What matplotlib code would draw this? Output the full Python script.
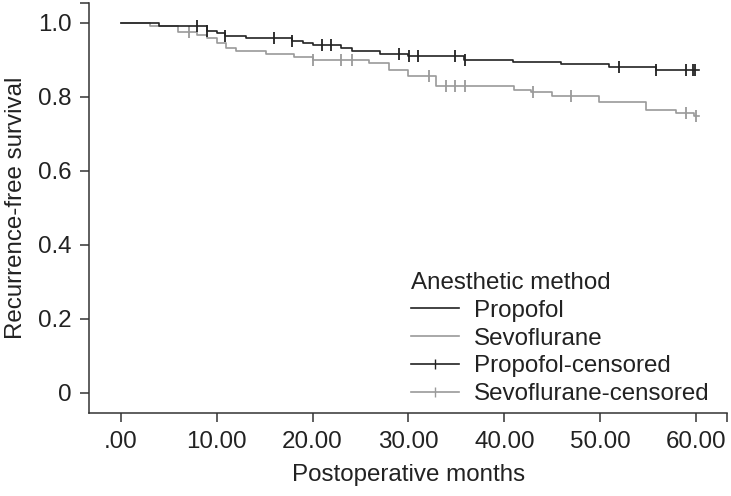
import numpy as np
import matplotlib
matplotlib.use("Agg")
import matplotlib.pyplot as plt
from matplotlib.lines import Line2D

plt.rcParams['font.family'] = ['Liberation Sans', 'DejaVu Sans']

# Kaplan-Meier step points (months, survival after the step)
propofol_t = [0, 4.0, 9.0, 10.0, 10.9, 13.1, 17.9, 19.0, 20.0, 23.0, 24.1, 27.0,
              29.9, 35.8, 40.9, 45.9, 50.9, 55.8]
propofol_s = [1.0, 0.992, 0.978, 0.972, 0.965, 0.959, 0.951, 0.945, 0.939, 0.932,
              0.923, 0.915, 0.909, 0.899, 0.893, 0.887, 0.880, 0.873]
propofol_cens = [8.0, 9.0, 10.9, 16.0, 17.9, 21.0, 21.9, 29.0, 30.1, 31.0, 34.9,
                 35.9, 51.9, 55.8, 58.9, 59.7, 59.9]

sevo_t = [0, 3.1, 6.0, 8.0, 9.0, 10.0, 11.0, 12.0, 15.1, 18.1, 20.0, 25.9, 28.0,
          29.9, 32.9, 41.0, 42.8, 45.0, 49.9, 54.8, 57.9, 59.8]
sevo_s = [1.0, 0.992, 0.974, 0.967, 0.958, 0.945, 0.932, 0.923, 0.914, 0.907, 0.898,
          0.891, 0.873, 0.856, 0.830, 0.819, 0.812, 0.803, 0.785, 0.765, 0.755, 0.747]
sevo_cens = [7.1, 20.0, 23.0, 24.1, 32.1, 33.9, 34.9, 35.9, 43.0, 46.9, 58.9, 60.0]

follow_end = 60.3

x_ticks = [0, 10, 20, 30, 40, 50, 60]
x_labels = ['.00', '10.00', '20.00', '30.00', '40.00', '50.00', '60.00']
y_ticks = [0, 0.2, 0.4, 0.6, 0.8, 1.0]
y_labels = ['0', '0.2', '0.4', '0.6', '0.8', '1.0']

BLACK = '#222222'
GRAY = '#9a9a9a'
TEXT = '#222222'
FS = 17.4


def step_value(t, s, x):
    i = np.searchsorted(t, x, side='right') - 1
    return np.asarray(s)[i]


fig = plt.figure(figsize=(7.31, 4.96), dpi=100)
ax = fig.add_axes([0.1222, 0.1667, 0.9945 - 0.1222, 0.9946 - 0.1667])

XMIN, XMAX = -3.27, 63.2
YMIN, YMAX = -0.0557, 1.054

for t, s, cens, col in [(sevo_t, sevo_s, sevo_cens, GRAY),
                        (propofol_t, propofol_s, propofol_cens, BLACK)]:
    tt = list(t) + [follow_end]
    ss = list(s) + [s[-1]]
    ax.step(tt, ss, where='post', color=col, lw=1.2)
    ax.plot(cens, step_value(t, s, cens), ls='none', marker='|',
            ms=9, mew=1.3, color=col)

ax.set_xlim(XMIN, XMAX)
ax.set_ylim(YMIN, YMAX)
ax.set_xticks(x_ticks)
ax.set_xticklabels(x_labels)
ax.set_yticks(y_ticks)
ax.set_yticklabels(y_labels)
# SPSS style end ticks on the axis ends
ax.set_xticks([XMAX], minor=True)
ax.set_yticks([YMAX], minor=True)

for side in ['top', 'right']:
    ax.spines[side].set_visible(False)
for side in ['left', 'bottom']:
    ax.spines[side].set_color('#333333')
    ax.spines[side].set_linewidth(1.1)

ax.tick_params(which='both', direction='out', length=6.5, width=1.1, color='#333333',
               labelsize=FS, labelcolor=TEXT)
ax.tick_params(axis='x', pad=6.5)
ax.tick_params(axis='y', pad=6.5)

ax.set_xlabel('Postoperative months', fontsize=FS, color=TEXT, labelpad=8)
ax.set_ylabel('Recurrence-free survival', fontsize=FS, color=TEXT, labelpad=8)

handles = [
    Line2D([], [], color=BLACK, lw=1.2),
    Line2D([], [], color=GRAY, lw=1.2),
    Line2D([], [], color=BLACK, lw=1.2, marker='|', ms=7, mew=1.0),
    Line2D([], [], color=GRAY, lw=1.2, marker='|', ms=7, mew=1.0),
]
labels = ['Propofol', 'Sevoflurane', 'Propofol-censored', 'Sevoflurane-censored']
leg = fig.legend(handles, labels, title='Anesthetic method', loc='upper left',
                 bbox_to_anchor=(410.7 / 731, 1 - 272 / 496), frameon=False,
                 fontsize=FS, title_fontsize=FS, borderpad=0, borderaxespad=0,
                 handlelength=2.0, handletextpad=0.6, labelspacing=0.24,
                 alignment='left', markerfirst=True)
for txt in leg.get_texts():
    txt.set_color(TEXT)
leg.get_title().set_color(TEXT)

fig.savefig('out.png', dpi=100)
